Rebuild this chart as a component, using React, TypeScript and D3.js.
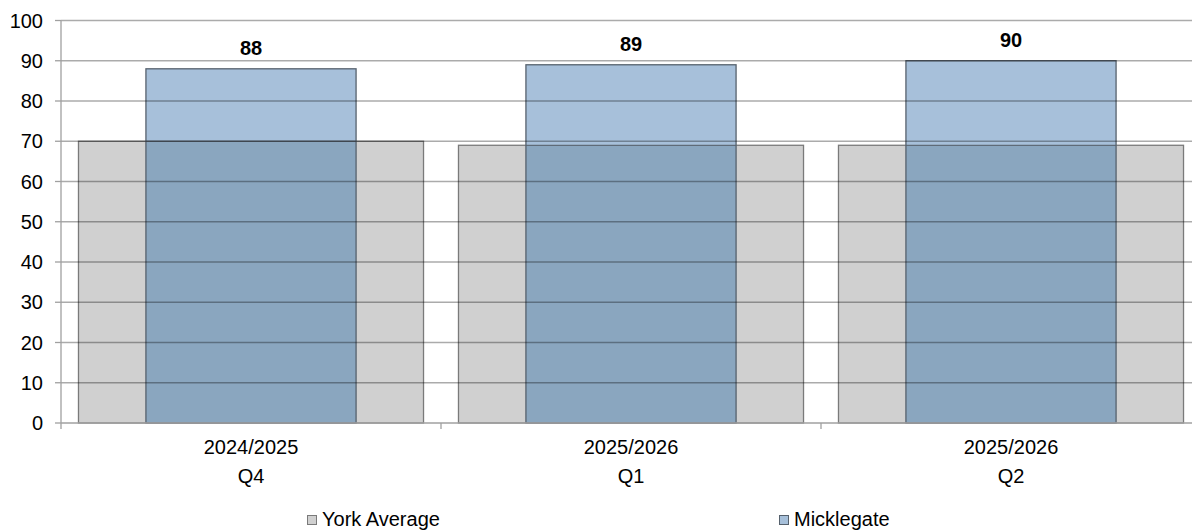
import React from "react";
import * as d3 from "d3";

const categories = [["2024/2025", "Q4"], ["2025/2026", "Q1"], ["2025/2026", "Q2"]];
const yorkAverage = [70, 69, 69];
const micklegate = [88, 89, 90];
const yTicks = [0, 10, 20, 30, 40, 50, 60, 70, 80, 90, 100];

export default function App() {
  const W = 1192, H = 531;
  const left = 61, right = 1201, top = 20.5, bottom = 423;
  const x = d3.scaleBand<number>().domain(d3.range(categories.length)).range([left, right]).paddingInner(0).paddingOuter(0);
  const y = d3.scaleLinear().domain([0, 100]).range([bottom, top]);
  const bw = x.bandwidth();
  const greyW = bw * 0.908;
  const blueW = bw * 0.553;
  const font = "Liberation Sans, Arial, sans-serif";
  return (
    <svg width={W} height={H} style={{ position: "absolute", left: 0, top: 0, fontFamily: font }}>
      <rect width={W} height={H} fill="#fff" />
      {categories.map((c, i) => {
        const cx = x(i)! + bw / 2;
        const gy = y(yorkAverage[i]);
        const by = y(micklegate[i]);
        const ov = Math.max(gy, by);
        return (
          <g key={i}>
            <rect x={cx - greyW / 2} y={gy} width={greyW} height={bottom - gy} fill="#d0d0d0" stroke="#7a7a7a" strokeWidth={1.3} />
            <rect x={cx - blueW / 2} y={by} width={blueW} height={bottom - by} fill="#a7c0da" />
            <rect x={cx - blueW / 2} y={ov} width={blueW} height={bottom - ov} fill="#8aa6bf" />
            <line x1={cx - blueW / 2} x2={cx + blueW / 2} y1={gy} y2={gy} stroke="#5f6b78" strokeWidth={1.3} />
            <rect x={cx - blueW / 2} y={by} width={blueW} height={bottom - by} fill="none" stroke="#56616d" strokeWidth={1.3} />
          </g>
        );
      })}
      {yTicks.map((t) => (
        <g key={t}>
          {t > 0 && <line x1={left} x2={W} y1={y(t)} y2={y(t)} stroke="#000" strokeOpacity={0.33} strokeWidth={1.3} />}
          <line x1={left - 6} x2={left} y1={y(t)} y2={y(t)} stroke="#a0a0a0" strokeWidth={1.3} />
          <text x={43} y={y(t)} dy="0.35em" textAnchor="end" fontSize={20} fill="#000">{t}</text>
        </g>
      ))}
      <line x1={left} x2={left} y1={top} y2={bottom + 6} stroke="#a0a0a0" strokeWidth={1.3} />
      <line x1={left} x2={W} y1={bottom} y2={bottom} stroke="#a0a0a0" strokeWidth={1.3} />
      {categories.map((c, i) => (
        <line key={"t" + i} x1={x(i)! + bw} x2={x(i)! + bw} y1={bottom} y2={bottom + 6} stroke="#a0a0a0" strokeWidth={1.3} />
      ))}
      {categories.map((c, i) => {
        const cx = x(i)! + bw / 2;
        return (
          <g key={"l" + i}>
            <text x={cx} y={y(micklegate[i]) - 14} textAnchor="middle" fontSize={20} fontWeight="bold">{micklegate[i]}</text>
            <text x={cx} y={454} textAnchor="middle" fontSize={20}>{c[0]}</text>
            <text x={cx} y={483} textAnchor="middle" fontSize={20}>{c[1]}</text>
          </g>
        );
      })}
      <g>
        <rect x={307.5} y={515.5} width={9} height={9} fill="#d0d0d0" stroke="#7a7a7a" strokeWidth={1} />
        <text x={322} y={526} fontSize={20}>York Average</text>
        <rect x={779.5} y={515.5} width={9} height={9} fill="#a7c0da" stroke="#56616d" strokeWidth={1} />
        <text x={794} y={526} fontSize={20}>Micklegate</text>
      </g>
    </svg>
  );
}
